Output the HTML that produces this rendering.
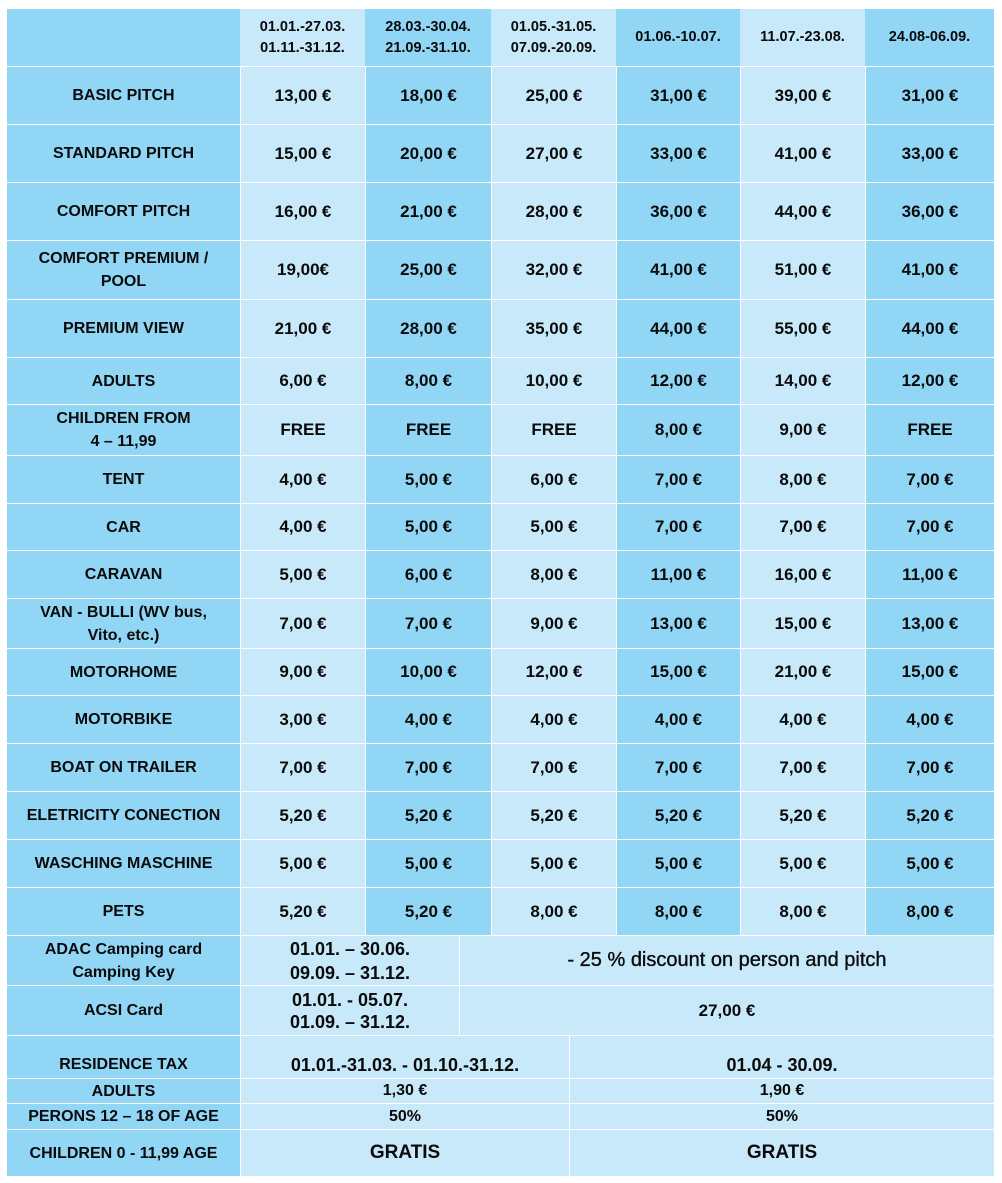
<!DOCTYPE html>
<html>
<head>
<meta charset="utf-8">
<style>
html,body{margin:0;padding:0;background:#fff;}
body{width:1002px;height:1183px;position:relative;overflow:hidden;font-family:"Liberation Sans",Arial,sans-serif;color:#0a0a0a;}
.r{position:absolute;left:7px;width:987px;display:grid;column-gap:1px;background:#fff;grid-template-rows:100%;overflow:hidden;}
.r>div{display:flex;align-items:center;justify-content:center;text-align:center;font-weight:bold;overflow:hidden;}
.m{grid-template-columns:233px 124px 125px 124px 123px 124px 128px;}
.m>div{font-size:17px;}
.m>div:first-child{font-size:16px;line-height:23px;}
.m>div:nth-child(odd){background:#92D6F6;}
.m>div:nth-child(even){background:#C8E9F9;}
.h{top:9px;height:57px;grid-template-columns:233px 125px 126px 125px 124px 125px 129px;column-gap:0;}
.h>div{font-size:14.5px;line-height:21px;}
.h>div:nth-child(odd){background:#92D6F6;}
.h>div:nth-child(even){background:#C8E9F9;}
.a{grid-template-columns:233px 218px 534px;}
.b{grid-template-columns:233px 328px 424px;}
.a>div,.b>div{background:#C8E9F9;}
.a>div:first-child,.b>div:first-child{background:#92D6F6;font-size:16px;line-height:23px;}
</style>
</head>
<body>

<div class="r h"><div></div><div>01.01.-27.03.<br>01.11.-31.12.</div><div>28.03.-30.04.<br>21.09.-31.10.</div><div>01.05.-31.05.<br>07.09.-20.09.</div><div>01.06.-10.07.</div><div>11.07.-23.08.</div><div>24.08-06.09.</div></div>

<div class="r m" style="top:67px;height:57px"><div>BASIC PITCH</div><div>13,00 €</div><div>18,00 €</div><div>25,00 €</div><div>31,00 €</div><div>39,00 €</div><div>31,00 €</div></div>
<div class="r m" style="top:125px;height:57px"><div>STANDARD PITCH</div><div>15,00 €</div><div>20,00 €</div><div>27,00 €</div><div>33,00 €</div><div>41,00 €</div><div>33,00 €</div></div>
<div class="r m" style="top:183px;height:57px"><div>COMFORT PITCH</div><div>16,00 €</div><div>21,00 €</div><div>28,00 €</div><div>36,00 €</div><div>44,00 €</div><div>36,00 €</div></div>
<div class="r m" style="top:241px;height:58px"><div>COMFORT PREMIUM /<br>POOL</div><div>19,00€</div><div>25,00 €</div><div>32,00 €</div><div>41,00 €</div><div>51,00 €</div><div>41,00 €</div></div>
<div class="r m" style="top:300px;height:57px"><div>PREMIUM VIEW</div><div>21,00 €</div><div>28,00 €</div><div>35,00 €</div><div>44,00 €</div><div>55,00 €</div><div>44,00 €</div></div>
<div class="r m" style="top:358px;height:46px"><div>ADULTS</div><div>6,00 €</div><div>8,00 €</div><div>10,00 €</div><div>12,00 €</div><div>14,00 €</div><div>12,00 €</div></div>
<div class="r m" style="top:405px;height:50px"><div>CHILDREN FROM<br>4 – 11,99</div><div>FREE</div><div>FREE</div><div>FREE</div><div>8,00 €</div><div>9,00 €</div><div>FREE</div></div>
<div class="r m" style="top:456px;height:47px"><div>TENT</div><div>4,00 €</div><div>5,00 €</div><div>6,00 €</div><div>7,00 €</div><div>8,00 €</div><div>7,00 €</div></div>
<div class="r m" style="top:504px;height:46px"><div>CAR</div><div>4,00 €</div><div>5,00 €</div><div>5,00 €</div><div>7,00 €</div><div>7,00 €</div><div>7,00 €</div></div>
<div class="r m" style="top:551px;height:47px"><div>CARAVAN</div><div>5,00 €</div><div>6,00 €</div><div>8,00 €</div><div>11,00 €</div><div>16,00 €</div><div>11,00 €</div></div>
<div class="r m" style="top:599px;height:49px"><div>VAN - BULLI (WV bus,<br>Vito, etc.)</div><div>7,00 €</div><div>7,00 €</div><div>9,00 €</div><div>13,00 €</div><div>15,00 €</div><div>13,00 €</div></div>
<div class="r m" style="top:649px;height:46px"><div>MOTORHOME</div><div>9,00 €</div><div>10,00 €</div><div>12,00 €</div><div>15,00 €</div><div>21,00 €</div><div>15,00 €</div></div>
<div class="r m" style="top:696px;height:47px"><div>MOTORBIKE</div><div>3,00 €</div><div>4,00 €</div><div>4,00 €</div><div>4,00 €</div><div>4,00 €</div><div>4,00 €</div></div>
<div class="r m" style="top:744px;height:47px"><div>BOAT ON TRAILER</div><div>7,00 €</div><div>7,00 €</div><div>7,00 €</div><div>7,00 €</div><div>7,00 €</div><div>7,00 €</div></div>
<div class="r m" style="top:792px;height:47px"><div>ELETRICITY CONECTION</div><div>5,20 €</div><div>5,20 €</div><div>5,20 €</div><div>5,20 €</div><div>5,20 €</div><div>5,20 €</div></div>
<div class="r m" style="top:840px;height:47px"><div>WASCHING MASCHINE</div><div>5,00 €</div><div>5,00 €</div><div>5,00 €</div><div>5,00 €</div><div>5,00 €</div><div>5,00 €</div></div>
<div class="r m" style="top:888px;height:47px"><div>PETS</div><div>5,20 €</div><div>5,20 €</div><div>8,00 €</div><div>8,00 €</div><div>8,00 €</div><div>8,00 €</div></div>

<div class="r a" style="top:936px;height:49px"><div>ADAC Camping card<br>Camping Key</div><div style="font-size:18px;line-height:24px">01.01. – 30.06.<br>09.09. – 31.12.</div><div style="font-size:20px;font-weight:normal;-webkit-text-stroke:0.35px #0a0a0a">- 25 % discount on person and pitch</div></div>
<div class="r a" style="top:986px;height:49px"><div>ACSI Card</div><div style="font-size:18px;line-height:22px">01.01. - 05.07.<br>01.09. – 31.12.</div><div style="font-size:17px">27,00 €</div></div>

<div class="r b" style="top:1036px;height:42px"><div style="align-items:flex-end;padding-bottom:2px;box-sizing:border-box">RESIDENCE TAX</div><div style="font-size:18px;align-items:flex-end;padding-bottom:2px;box-sizing:border-box">01.01.-31.03. - 01.10.-31.12.</div><div style="font-size:18px;align-items:flex-end;padding-bottom:2px;box-sizing:border-box">01.04 - 30.09.</div></div>
<div class="r b" style="top:1079px;height:24px"><div>ADULTS</div><div style="font-size:16px">1,30 €</div><div style="font-size:16px">1,90 €</div></div>
<div class="r b" style="top:1104px;height:25px"><div>PERONS 12 – 18 OF AGE</div><div style="font-size:16px">50%</div><div style="font-size:16px">50%</div></div>
<div class="r b" style="top:1130px;height:46px"><div>CHILDREN 0 - 11,99 AGE</div><div style="font-size:19px">GRATIS</div><div style="font-size:19px">GRATIS</div></div>

</body>
</html>
